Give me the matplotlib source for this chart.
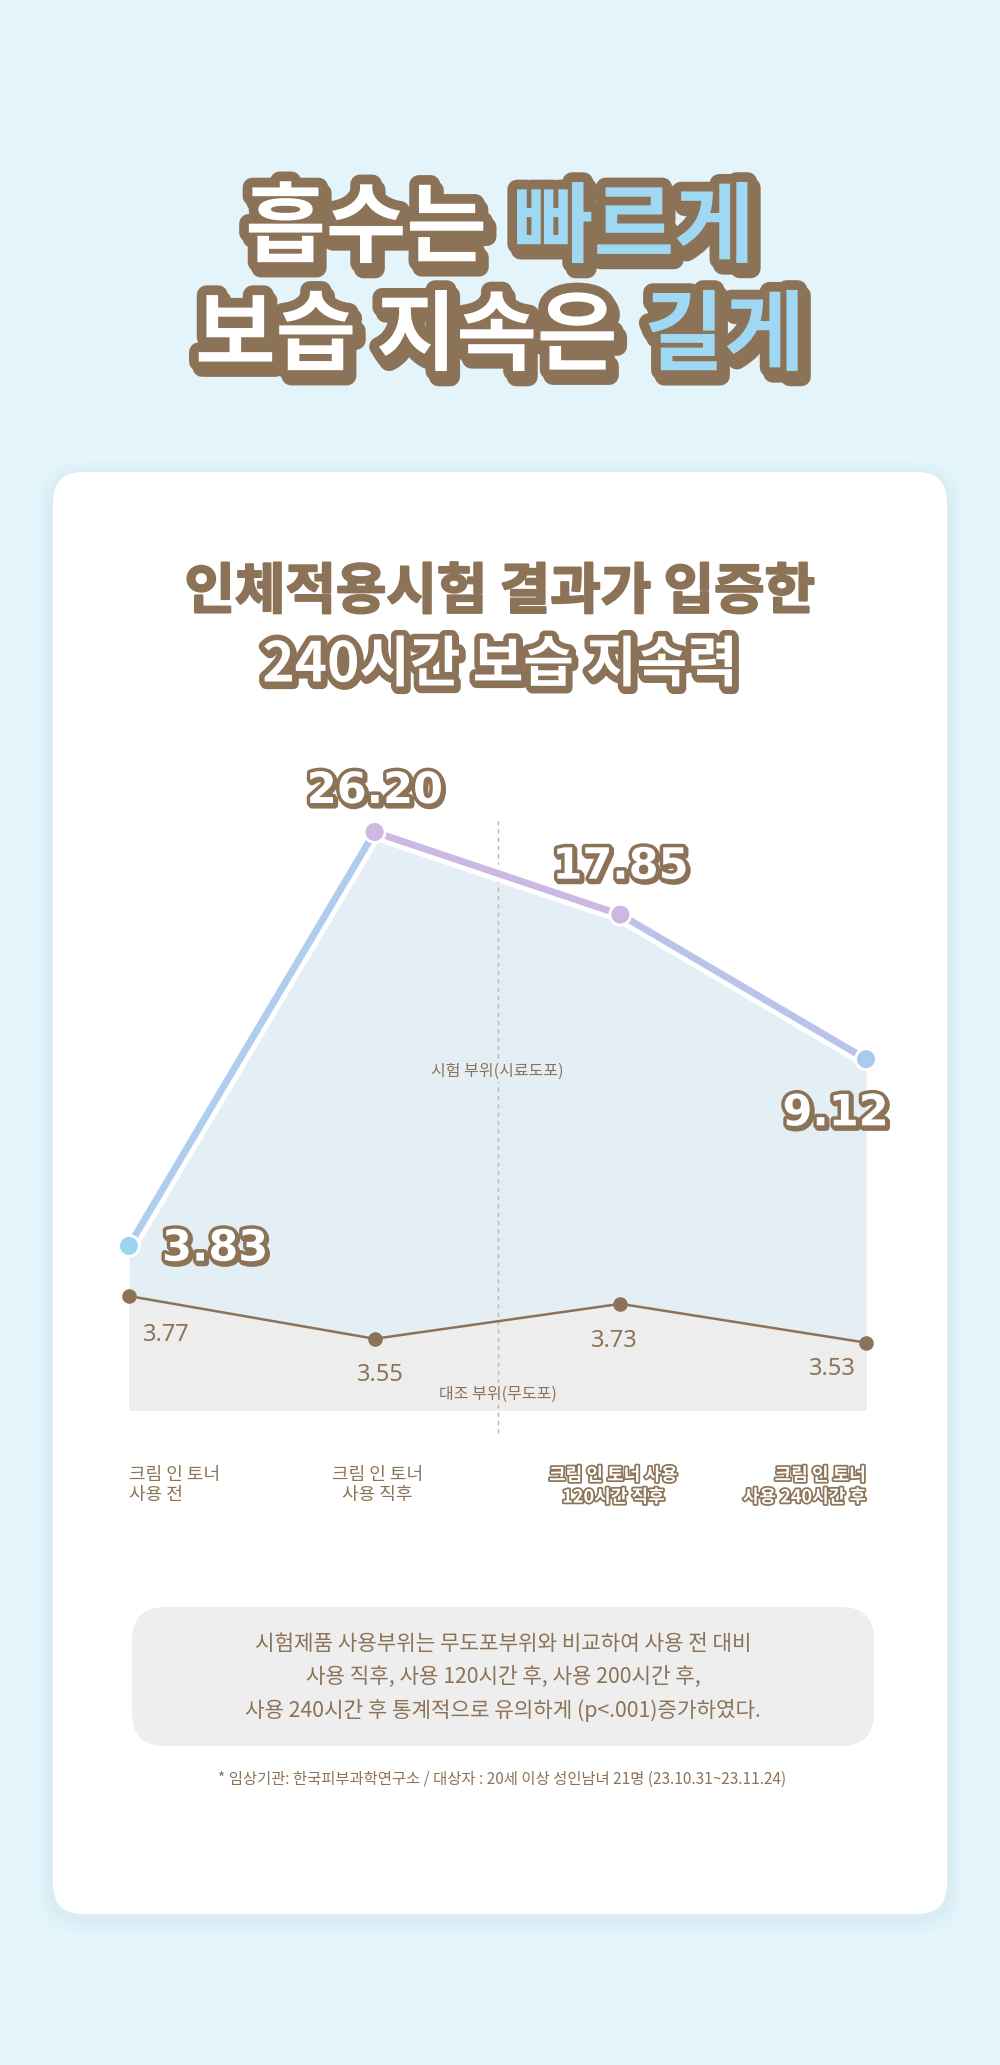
import matplotlib
matplotlib.use("Agg")
import matplotlib.pyplot as plt
import matplotlib.patheffects as pe
from matplotlib.patches import FancyBboxPatch
from matplotlib.collections import LineCollection
import numpy as np

plt.rcParams["font.family"] = ["Noto Sans CJK KR", "DejaVu Sans"]

BROWN = "#8c7358"
SKY = "#9fd8f3"
BG = "#e3f4fb"

# data
stages = ["크림 인 토너\n사용 전", "크림 인 토너\n사용 직후",
          "크림 인 토너 사용\n120시간 직후", "크림 인 토너\n사용 240시간 후"]
test_site = [3.83, 26.20, 17.85, 9.12]      # 시험 부위(시료도포)
control_site = [3.77, 3.55, 3.73, 3.53]     # 대조 부위(무도포)
title_parts = [("흡수는", "빠르게"), ("보습 지속은", "길게")]
subtitle = ["인체적용시험 결과가 입증한", "240시간 보습 지속력"]
note_lines = ["시험제품 사용부위는 무도포부위와 비교하여 사용 전 대비",
              "사용 직후, 사용 120시간 후, 사용 200시간 후,",
              "사용 240시간 후 통계적으로 유의하게 (p<.001)증가하였다."]
footnote = "* 임상기관: 한국피부과학연구소 / 대상자 : 20세 이상 성인남녀 21명 (23.10.31~23.11.24)"

fig = plt.figure(figsize=(10, 20.65), dpi=100)
fig.patch.set_facecolor(BG)

# pixel-space background axes
bg = fig.add_axes([0, 0, 1, 1])
bg.set_xlim(0, 1000)
bg.set_ylim(2065, 0)
bg.axis("off")

# card with soft shadow
for grow, a in [(14, 0.08), (9, 0.10), (5, 0.14)]:
    bg.add_patch(FancyBboxPatch((53 - grow, 472 - grow + 4), 894 + 2 * grow, 1442 + 2 * grow,
                                boxstyle="round,pad=0,rounding_size=%d" % (30 + grow),
                                fc="#c9dfe9", ec="none", alpha=a))
bg.add_patch(FancyBboxPatch((53, 472), 894, 1442, boxstyle="round,pad=0,rounding_size=30",
                            fc="white", ec="none"))

# headline with outline + drop shadow
renderer = fig.canvas.get_renderer()
title_fx = [pe.Stroke(linewidth=14, foreground=BROWN, offset=(2.5, -4), joinstyle="round"),
            pe.Stroke(linewidth=14, foreground=BROWN, joinstyle="round"), pe.Normal()]
tsize = 63
em = tsize * 100 / 72
for (a, b), yy in zip(title_parts, [230, 338]):
    ta = bg.text(0, yy, a, fontsize=tsize, weight="black", color="white",
                 ha="left", va="center", path_effects=title_fx)
    tb = bg.text(0, yy, b, fontsize=tsize, weight="black", color=SKY,
                 ha="left", va="center", path_effects=title_fx)
    wa = ta.get_window_extent(renderer).width
    wb = tb.get_window_extent(renderer).width
    gap = 0.3 * em
    x0 = 500 - (wa + gap + wb) / 2
    ta.set_x(x0)
    tb.set_x(x0 + wa + gap)

# subtitle
bg.text(500, 592, subtitle[0], fontsize=39.5, weight="black", color=BROWN, ha="center", va="center",
        path_effects=[pe.Stroke(linewidth=1.5, foreground=BROWN, joinstyle="round"), pe.Normal()])
bg.text(500, 665, subtitle[1], fontsize=39.5, weight="black", color="white", ha="center", va="center",
        path_effects=[pe.Stroke(linewidth=8, foreground=BROWN, offset=(1, -1.5), joinstyle="round"),
                      pe.Stroke(linewidth=8, foreground=BROWN, joinstyle="round"), pe.Normal()])

# chart area
L, R, TOP, BOT = 129, 866, 800, 1410
rect = [L / 1000, 1 - BOT / 2065, (R - L) / 1000, (BOT - TOP) / 2065]
x = np.arange(len(stages))
test_lim = (1.787, 30.4)
ctrl_lim = (3.183, 6.326)

ax = fig.add_axes(rect)
ax.set_xlim(0, 3.0)
ax.set_yscale("log")
ax.set_ylim(*test_lim)
ax.axis("off")
ax.fill_between(x, test_site, test_lim[0], color="#e3eff4", lw=0)

ax2 = ax.twinx()
ax2.set_ylim(*ctrl_lim)
ax2.axis("off")
ax2.fill_between(x, control_site, ctrl_lim[0], color="#ededed", lw=0, zorder=1)
ax2.axvline(1.5, ymin=-0.038, ymax=0.969, clip_on=False, color="#c8b39f", lw=1,
            dashes=(3, 3), zorder=2)
ax2.plot(x, control_site, color=BROWN, lw=1.8, zorder=3, clip_on=False)
ax2.scatter(x, control_site, s=110, color=BROWN, zorder=4, linewidths=0, clip_on=False)
ctrl_off = [(27, -28), (4, -26), (-4, -27), (-24, -19)]
for i, v in enumerate(control_site):
    ax2.annotate(f"{v:.2f}", xy=(i, v), xytext=ctrl_off[i], textcoords="offset points",
                 ha="center", va="center", fontsize=17, color=BROWN,
                 family=["Noto Sans", "DejaVu Sans"], weight="light", zorder=5)
ax2.text(1.5, 0.556, "시험 부위(시료도포)", transform=ax2.get_xaxis_transform(),
         ha="center", va="center", fontsize=11.5, color=BROWN, zorder=5,
         bbox=dict(fc="#e3eff4", ec="none", pad=2))
ax2.text(1.5, 0.026, "대조 부위(무도포)", transform=ax2.get_xaxis_transform(),
         ha="center", va="center", fontsize=11.5, color=BROWN, zorder=5,
         bbox=dict(fc="#ededed", ec="none", pad=2))

ax3 = ax.twinx()
ax3.set_yscale("log")
ax3.set_ylim(*test_lim)
ax3.axis("off")
ax3.plot(x, test_site, color="white", lw=12, solid_joinstyle="round",
         solid_capstyle="round", zorder=2, clip_on=False)
segs = [[(x[i], test_site[i]), (x[i + 1], test_site[i + 1])] for i in range(len(x) - 1)]
ax3.add_collection(LineCollection(segs, colors=["#afcdee", "#cab9e2", "#bac3e9"],
                                  linewidths=5, capstyle="round", zorder=3, clip_on=False))
ax3.scatter(x, test_site, s=225, c=["#9dd4f2", "#cdb8e2", "#cdb8e2", "#a9ccee"],
            edgecolors="white", linewidths=2, zorder=4, clip_on=False)
test_off = [(62, -2), (0, 29.5), (0, 34.5), (-22, -39)]
num_fx = [pe.Stroke(linewidth=5, foreground=BROWN, offset=(1.2, -1.5), joinstyle="round"),
          pe.Stroke(linewidth=5, foreground=BROWN, joinstyle="round"), pe.Normal()]
for i, v in enumerate(test_site):
    ax3.annotate(f"{v:.2f}", xy=(i, v), xytext=test_off[i], textcoords="offset points",
                 ha="center", va="center", fontsize=31, color="white", weight="bold",
                 family="DejaVu Sans", path_effects=num_fx, zorder=6)

# category labels under chart
cat_ha = ["left", "center", "center", "right"]
cat_dx = [0, 2, -5, 0]
for i, lab in enumerate(stages):
    kw = dict(color=BROWN)
    if i >= 2:
        kw = dict(color="white", weight="bold",
                  path_effects=[pe.Stroke(linewidth=2.5, foreground=BROWN, joinstyle="round"),
                                pe.Normal()])
    ax.annotate(lab, xy=(i, 0), xycoords=ax.get_xaxis_transform(),
                xytext=(cat_dx[i], -40), textcoords="offset points",
                ha=cat_ha[i], va="top", multialignment=cat_ha[i],
                fontsize=13, linespacing=1.2, annotation_clip=False, **kw)

# summary box
bg.add_patch(FancyBboxPatch((132, 1607), 742, 139, boxstyle="round,pad=0,rounding_size=33",
                            fc="#eeeeee", ec="none"))
for line, yy in zip(note_lines, [1644, 1677, 1710]):
    bg.text(503, yy, line, fontsize=15.3, color=BROWN, ha="center", va="center")
bg.text(502, 1779, footnote, fontsize=11.1, color=BROWN, ha="center", va="center")

fig.savefig("out.png", dpi=100, facecolor=BG)
